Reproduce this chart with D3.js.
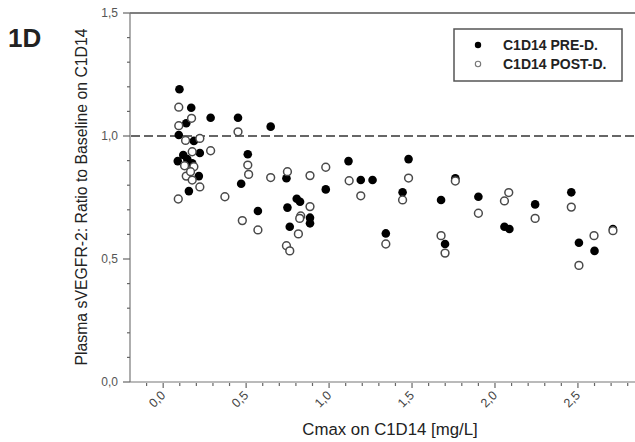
<!DOCTYPE html>
<html>
<head>
<meta charset="utf-8">
<script src="https://cdn.jsdelivr.net/npm/d3@7"></script>
<style>
  body { margin: 0; background: #fff; }
  svg { display: block; }
  text { font-family: "Liberation Sans", Arial, sans-serif; }
</style>
</head>
<body>
<svg id="chart" width="635" height="442"></svg>
<script>
// C1D14 PRE-D. (filled)
var preX = [0.098,0.169,0.286,0.451,0.139,0.094,0.185,0.221,0.121,0.510,0.088,0.145,0.175,0.215,0.470,0.155,
            0.648,1.117,0.743,1.191,1.262,0.980,0.805,0.825,0.571,0.749,0.885,0.885,0.763,1.342,
            1.479,1.443,1.675,1.761,1.900,2.057,2.087,2.242,2.460,1.699,2.506,2.600,2.711];
var preY = [1.190,1.115,1.074,1.074,1.052,1.004,0.980,0.931,0.923,0.926,0.898,0.906,0.889,0.837,0.806,0.776,
            1.038,0.898,0.828,0.821,0.821,0.783,0.745,0.733,0.695,0.709,0.668,0.645,0.631,0.604,
            0.906,0.771,0.740,0.828,0.753,0.631,0.622,0.722,0.771,0.561,0.566,0.533,0.622];
// C1D14 POST-D. (open)
var postX = [0.094,0.171,0.094,0.451,0.135,0.221,0.175,0.286,0.510,0.129,0.185,0.515,0.139,0.165,0.175,0.221,0.091,0.372,
             0.648,0.749,0.885,0.980,1.121,1.191,0.885,0.829,0.823,0.477,0.571,0.815,0.743,0.763,1.342,
             1.479,1.443,1.761,1.675,1.699,1.900,2.083,2.057,2.242,2.460,2.506,2.597,2.711];
var postY = [1.117,1.072,1.042,1.017,0.982,0.990,0.936,0.940,0.882,0.879,0.875,0.844,0.837,0.855,0.821,0.793,0.744,0.753,
             0.831,0.855,0.839,0.873,0.818,0.757,0.713,0.675,0.665,0.656,0.618,0.602,0.554,0.533,0.561,
             0.829,0.740,0.817,0.595,0.524,0.686,0.770,0.736,0.665,0.711,0.474,0.595,0.615];

var xTicks = [0, 0.5, 1.0, 1.5, 2.0, 2.5];
var yTicks = [0, 0.5, 1.0, 1.5];
var legendLabels = ["C1D14 PRE-D.", "C1D14 POST-D."];

var svg = d3.select("#chart");
var fmt = function(d){ return d3.format(".1f")(d).replace(".", ","); };

var x = d3.scaleLinear().domain([-0.2, 2.85]).range([130, 636]);
var y = d3.scaleLinear().domain([0, 1.5]).range([382, 13]);

// top frame
svg.append("line").attr("x1", 130).attr("x2", 635).attr("y1", 13).attr("y2", 13)
    .attr("stroke", "#555").attr("stroke-width", 1.5);

// x axis
var xMinor = d3.range(-0.1, 2.85, 0.1).map(function(d){ return Math.round(d*10)/10; });
svg.append("line").attr("x1", 130).attr("x2", 635).attr("y1", 382).attr("y2", 382)
    .attr("stroke", "#777").attr("stroke-width", 1.2);
svg.selectAll(".xminor").data(xMinor).enter().append("line")
    .attr("x1", function(d){ return x(d); }).attr("x2", function(d){ return x(d); })
    .attr("y1", 383).attr("y2", function(d){ return xTicks.indexOf(d) >= 0 ? 388 : 386; })
    .attr("stroke", "#666").attr("stroke-width", 1.2);
svg.selectAll(".xlab").data(xTicks).enter().append("text")
    .attr("transform", function(d){ return "translate(" + (x(d) + 3) + ",396) rotate(-45)"; })
    .attr("text-anchor", "end")
    .attr("font-size", 12.5).attr("fill", "#444")
    .text(fmt);

// y axis
var yMinor = d3.range(0, 1.51, 0.1).map(function(d){ return Math.round(d*10)/10; });
svg.append("line").attr("x1", 130).attr("x2", 130).attr("y1", 13).attr("y2", 382)
    .attr("stroke", "#777").attr("stroke-width", 1.2);
svg.selectAll(".yminor").data(yMinor).enter().append("line")
    .attr("y1", function(d){ return y(d); }).attr("y2", function(d){ return y(d); })
    .attr("x1", function(d){ return yTicks.indexOf(d) >= 0 ? 123 : 127; }).attr("x2", 130)
    .attr("stroke", "#666").attr("stroke-width", 1.2);
svg.selectAll(".ylab").data(yTicks).enter().append("text")
    .attr("x", 118).attr("y", function(d){ return y(d) + 4; })
    .attr("text-anchor", "end")
    .attr("font-size", 12).attr("fill", "#555")
    .text(fmt);

// reference line at 1.0
svg.append("line").attr("x1", 131).attr("x2", 635).attr("y1", y(1)).attr("y2", y(1))
    .attr("stroke", "#666").attr("stroke-width", 2).attr("stroke-dasharray", "9,4");

// points
svg.selectAll(".pre").data(d3.range(preX.length)).enter().append("circle")
    .attr("cx", function(i){ return x(preX[i]); })
    .attr("cy", function(i){ return y(preY[i]); })
    .attr("r", 4.3).attr("fill", "#000");
svg.selectAll(".post").data(d3.range(postX.length)).enter().append("circle")
    .attr("cx", function(i){ return x(postX[i]); })
    .attr("cy", function(i){ return y(postY[i]); })
    .attr("r", 3.9).attr("fill", "#fff").attr("stroke", "#4a4a4a").attr("stroke-width", 1.5);

// legend
svg.append("rect").attr("x", 454).attr("y", 29).attr("width", 168).attr("height", 52)
    .attr("fill", "#fff").attr("stroke", "#555").attr("stroke-width", 1.5);
svg.append("circle").attr("cx", 478).attr("cy", 45).attr("r", 3.2).attr("fill", "#000");
svg.append("circle").attr("cx", 478).attr("cy", 64).attr("r", 2.7)
    .attr("fill", "#fff").attr("stroke", "#777").attr("stroke-width", 1.1);
svg.selectAll(".leg").data(legendLabels).enter().append("text")
    .attr("x", 503).attr("y", function(d, i){ return 50 + i*19; })
    .attr("font-size", 14).attr("font-weight", "bold").attr("fill", "#222")
    .text(function(d){ return d; });

// titles
svg.append("text").attr("x", 390).attr("y", 435).attr("text-anchor", "middle")
    .attr("font-size", 16.8).attr("fill", "#222").text("Cmax on C1D14 [mg/L]");
svg.append("text").attr("transform", "translate(87,197) rotate(-90)")
    .attr("text-anchor", "middle").attr("font-size", 15.8).attr("fill", "#222")
    .text("Plasma sVEGFR-2: Ratio to Baseline on C1D14");
svg.append("text").attr("x", 8).attr("y", 47)
    .attr("font-family", "'Open Sans', sans-serif").attr("font-weight", "bold")
    .attr("font-size", 26).attr("fill", "#222").text("1D");
</script>
</body>
</html>
